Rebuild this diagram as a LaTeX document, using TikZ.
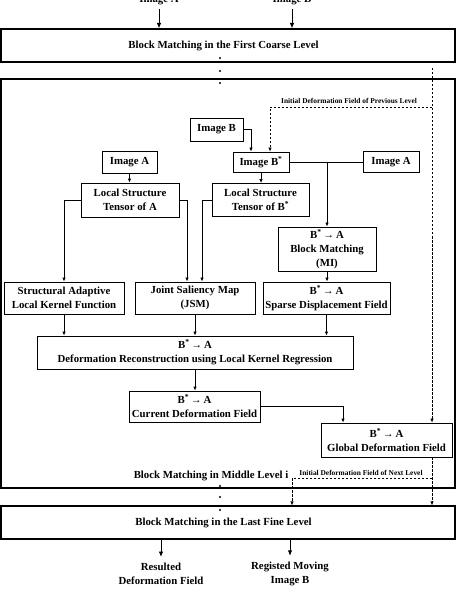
\documentclass[tikz,border=0pt]{standalone}
\usepackage{fontspec}
\setmainfont{Liberation Serif}
\usetikzlibrary{arrows.meta}

\newcommand{\BtoA}{B\textsuperscript{*}\,→\,A}

\begin{document}
\begin{tikzpicture}[x=1pt,y=-1pt,
    font=\fontsize{10.8}{14}\selectfont\bfseries,
    box/.style={draw,line width=0.8pt,inner sep=1pt,align=center},
    level/.style={draw,line width=1.1pt,minimum width=454pt,minimum height=33pt,inner sep=0pt},
    small/.style={font=\fontsize{7.4}{9}\selectfont\bfseries},
    outlbl/.style={align=center,inner sep=6pt},
    conn/.style={line width=0.8pt},
    dsh/.style={line width=0.6pt,dash pattern=on 2.5pt off 1.5pt},
    tip/.style={-{Latex[length=4pt,width=3.4pt]}},
    bigtip/.style={line width=0.9pt,-{Latex[length=5.5pt,width=4.5pt]}},
  ]
  \useasboundingbox (0,0) rectangle (471,609);

  % inputs
  \node (srcA) at (159,0.5) {Image A};
  \node (srcB) at (292,0.5) {Image B};

  % levels
  \node[level] (coarse) at (228,45.5) {\hspace*{-9pt}Block Matching in the First Coarse Level};
  \node[level,minimum height=409pt] (middle) at (228,283.5) {};
  \node[level] (fine) at (228,522.5) {\hspace*{-9pt}Block Matching in the Last Fine Level};
  \draw[bigtip] (srcA) -- (srcA |- coarse.north);
  \draw[bigtip] (srcB) -- (srcB |- coarse.north);

  % dots between the levels
  \foreach \y in {58,71,83,486,497,510}
    \fill (220,\y) circle (1.1pt);

  %%%%%%%%%%%%%%%%%%%%%%%%%%%%%%%%%%%%%%%%%%%%%%%%%%%%%%%%%

  % images
  \node[box,minimum width=53pt,minimum height=23pt] (imgB) at (216.5,129.5) {Image B};
  \node[box,minimum width=56pt,minimum height=20pt] (imgBs) at (261,162) {Image B\textsuperscript{*}};
  \node[box,minimum width=56pt,minimum height=21pt] (imgAr) at (391,162) {Image A};
  \node[box,minimum width=55pt,minimum height=22pt] (imgAl) at (129.5,162) {Image A};

  % structure tensors
  \node[box,minimum width=98pt,minimum height=34pt] (lstA) at (130,200) {Local Structure\\Tensor of A};
  \node[box,minimum width=97pt,minimum height=33pt] (lstB) at (260.5,200) {Local Structure\\Tensor of B\textsuperscript{*}};

  % matching
  \node[box,minimum width=98pt,minimum height=44pt] (bm) at (327,249) {\BtoA\\Block Matching\\(MI)};

  % kernel, saliency, displacement
  \node[box,minimum width=120pt,minimum height=32pt] (salk) at (64,298) {Structural Adaptive\\Local Kernel Function};
  \node[box,minimum width=120pt,minimum height=32pt] (jsm) at (195,298) {Joint Saliency Map\\(JSM)};
  \node[box,minimum width=127pt,minimum height=32pt] (sdf) at (326.5,298) {\BtoA\\Sparse Displacement Field};

  % reconstruction
  \node[box,minimum width=316pt,minimum height=33pt] (dr) at (195,352.5) {\BtoA\\Deformation Reconstruction using Local Kernel Regression};
  \node[box,minimum width=131pt,minimum height=31pt] (cdf) at (194.5,406.5) {\BtoA\\Current Deformation Field};
  \node[box,minimum width=131pt,minimum height=34pt] (gdf) at (386.5,440) {\BtoA\\Global Deformation Field};

  % connectors
  \draw[conn,tip] (imgB.east) -| ([xshift=-10pt]imgBs.north);
  \draw[conn] (imgBs.east) -- (imgAr.west);
  \coordinate (split) at (327,162);
  \draw[conn,tip] (split) -- (split |- bm.north);
  \draw[conn,tip] (imgBs) -- (imgBs |- lstB.north);
  \draw[conn,tip] (imgAl) -- (imgAl |- lstA.north);
  \draw[conn,tip] (lstA.west) -| (salk.north);
  \draw[conn,tip] (lstA.east) -| ([xshift=-8pt]jsm.north);
  \draw[conn,tip] (lstB.west) -| ([xshift=7pt]jsm.north);
  \draw[conn,tip] (bm) -- (bm |- sdf.north);
  \draw[conn,tip] (salk) -- (salk |- dr.north);
  \draw[conn,tip] (jsm) -- (jsm |- dr.north);
  \draw[conn,tip] (sdf) -- (sdf |- dr.north);
  \draw[conn,tip] (dr) -- (dr |- cdf.north);
  \draw[conn,tip] (cdf.east) -| ([xshift=-43.5pt]gdf.north);

  % field of previous level
  \coordinate (prevtop) at (432,68);
  \coordinate (prevbend) at (432,107);
  \draw[dsh,tip] (prevtop) -- (prevtop |- gdf.north);
  \draw[dsh,tip] (prevbend) -| ([xshift=9pt]imgBs.north);
  \node[small,anchor=base] (prevlbl) at (349,104) {Initial Deformation Field of Previous Level};

  % field of next level
  \coordinate (nextbend) at (432,478);
  \coordinate (nextdrop) at (292,478);
  \draw[dsh,tip] (prevtop |- gdf.south) -- (prevtop |- fine.north);
  \draw[dsh,tip] (nextbend) -- (nextdrop) -- (nextdrop |- fine.north);
  \node[small,anchor=base] (nextlbl) at (361,475) {Initial Deformation Field of Next Level};
  \node[anchor=base] (midlbl) at (211,478.5) {Block Matching in Middle Level i};

  % outputs
  \node[outlbl] (res) at (161,574) {Resulted\\Deformation Field};
  \node[outlbl] (reg) at (290,574) {Registed Moving\\Image B};
  \draw[bigtip] (fine.south -| res) -- (res.north);
  \draw[bigtip] (fine.south -| reg) -- (reg.north);

\end{tikzpicture}
\end{document}
